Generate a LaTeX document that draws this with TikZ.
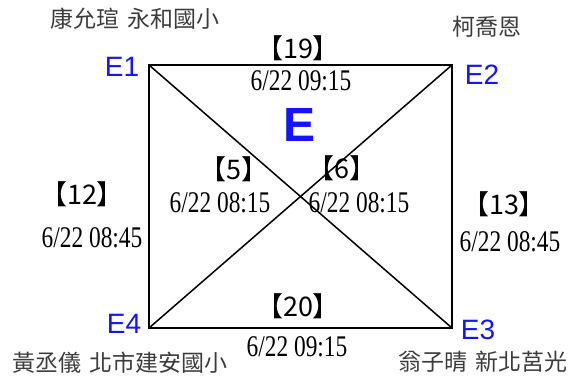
\documentclass[tikz,border=0pt]{standalone}
\usepackage{fontspec}
\usepackage{tikz}
\usetikzlibrary{arrows,backgrounds}
\usepackage{xcolor}
\definecolor{corner-blue}{RGB}{20,20,255}
\definecolor{name-grey}{RGB}{60,60,60}
\newfontfamily\cjkfont{Noto Sans CJK TC}
\newfontfamily\datefont[FakeStretch=0.78]{Liberation Serif}
\newfontfamily\cornerfont{Liberation Sans}
\newcommand{\gap}{\hspace{0.35em}}
\tikzstyle{corner}=[text=corner-blue, font=\cornerfont\fontsize{28}{28}\selectfont, inner sep=0pt]
\tikzstyle{player}=[text=name-grey, font=\cjkfont\fontsize{23}{23}\selectfont, inner sep=0pt]
\tikzstyle{game}=[font=\cjkfont\fontsize{27}{27}\selectfont, inner sep=0pt]
\tikzstyle{when}=[font=\datefont\fontsize{30}{30}\selectfont, inner sep=0pt]
\tikzstyle{square}=[x=1pt, y=-1pt, line width=1.5pt]

\begin{document}
\begin{tikzpicture}[square]
	\useasboundingbox (0,0) rectangle (575,380);
	\coordinate (e1) at (149,65);
	\coordinate (e2) at (452,65);
	\coordinate (e3) at (452,328);
	\coordinate (e4) at (149,328);
	\draw (e1)--(e2)--(e3)--(e4)--cycle;
	\draw (e1)--(e3);
	\draw (e4)--(e2);
	\node[corner] (n1) at (122,67) {E1};
	\node[corner] (n2) at (482,75) {E2};
	\node[corner] (n3) at (478,330) {E3};
	\node[corner] (n4) at (124,324) {E4};
	\node[text=corner-blue, font=\cornerfont\bfseries\fontsize{48}{48}\selectfont, inner sep=0pt] (group) at (300,125) {E};
	\node[player] (p1) at (135,19) {康允瑄\gap 永和國小};
	\node[player] (p2) at (487,27) {柯喬恩};
	\node[player] (p3) at (483,362) {翁子晴\gap 新北莒光};
	\node[player] (p4) at (120,363) {黃丞儀\gap 北市建安國小};
	\node[game] (g19) at (298,48) {【19】};
	\node[when] (t19) at (301,81) {6/22 09:15};
	\node[game] (g5) at (234,169) {【5】};
	\node[when] (t5) at (220,203) {6/22 08:15};
	\node[game] (g6) at (342,168) {【6】};
	\node[when] (t6) at (359,203) {6/22 08:15};
	\node[game] (g12) at (82,194) {【12】};
	\node[when] (t12) at (92,238) {6/22 08:45};
	\node[game] (g13) at (504,204) {【13】};
	\node[when] (t13) at (510,242) {6/22 08:45};
	\node[game] (g20) at (298,306) {【20】};
	\node[when] (t20) at (297,347) {6/22 09:15};
\end{tikzpicture}
\end{document}
